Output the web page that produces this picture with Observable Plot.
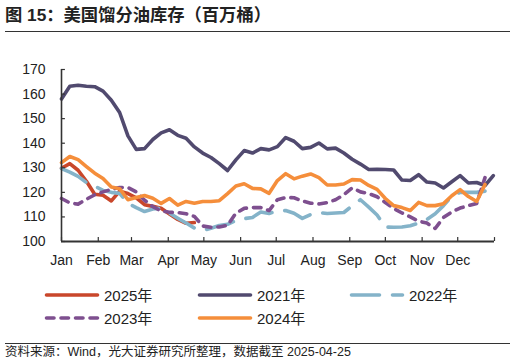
<!DOCTYPE html>
<html>
<head>
<meta charset="utf-8">
<script src="https://cdn.jsdelivr.net/npm/d3@7"></script>
<script src="https://cdn.jsdelivr.net/npm/@observablehq/plot@0.6"></script>
<style>
  html, body { margin: 0; padding: 0; background: #fff; }
  #root { position: relative; width: 516px; height: 364px; overflow: hidden; font-family: "Liberation Sans", Arial, "Noto Sans CJK SC", sans-serif; color: #222; }
  #title { position: absolute; left: 5px; top: 4px; font-family: "Liberation Sans", "Noto Sans CJK SC", sans-serif; font-weight: bold; font-size: 17.3px; line-height: 22px; color: #222; white-space: nowrap; }
  .hr { position: absolute; left: 5px; width: 505px; height: 0; border-top: 1.3px solid #333; }
  #chart { position: absolute; left: 0; top: 40px; }
  #legend { position: absolute; left: 0; top: 282px; width: 516px; height: 50px; }
  .item { position: absolute; display: flex; align-items: center; font-size: 15px; font-family: "Liberation Sans", Arial, "Noto Sans CJK SC", sans-serif; color: #222; white-space: nowrap; }
  .item svg { margin-right: 3px; }
  #caption { position: absolute; left: 5px; top: 344px; font-size: 12.5px; line-height: 17px; font-family: "Liberation Sans", "Noto Sans CJK SC", sans-serif; color: #222; white-space: nowrap; }
</style>
</head>
<body>
<div id="root">
  <div id="title">图 15：美国馏分油库存（百万桶）</div>
  <div class="hr" style="top:31px"></div>
  <div id="chart"></div>
  <div id="legend"></div>
  <div class="hr" style="top:343px"></div>
  <div id="caption">资料来源：Wind，光大证券研究所整理，数据截至 2025-04-25</div>
</div>
<script>
// ---- data (weekly values, million barrels) ----
const seriesNames = ["2025年", "2021年", "2022年", "2023年", "2024年"];
const months = ["Jan","Feb","Mar","Apr","May","Jun","Jul","Aug","Sep","Oct","Nov","Dec"];
const monthStartDays = [0,31,59,90,120,151,181,212,243,273,304,334,365];
const yTicks = [100,110,120,130,140,150,160,170];

const y2025 = [129.8,131.7,129.0,124.5,119.2,118.8,116.5,120.5,119.5,117.8,115.0,114.3,113.5,111.2,109.0,107.4,107.7];
const y2021 = [158.0,163.2,163.6,163.2,163.0,161.2,157.5,152.5,143.0,137.5,137.8,141.5,144.2,145.5,143.2,142.0,138.5,136.0,134.2,131.7,128.9,133.2,137.0,136.0,137.8,137.3,138.6,142.3,140.8,137.8,138.3,140.1,137.7,138.0,136.0,133.5,131.5,129.3,129.4,129.3,129.1,125.0,124.8,127.2,124.2,123.8,121.8,124.3,126.8,123.8,124.0,122.8,126.8];
const y2022 = [129.7,128.2,126.5,124.0,122.5,120.8,120.0,119.6,115.5,113.8,112.2,113.2,113.6,111.6,109.5,107.5,105.5,104.5,105.4,106.5,107.0,108.5,109.3,109.8,112.0,111.4,112.4,112.6,111.5,109.4,111.0,111.8,111.4,111.6,111.8,114.5,117.0,114.0,110.8,105.9,105.8,105.9,106.4,107.5,109.0,111.3,114.6,118.5,120.0,120.0,120.0,120.5];
const y2023 = [117.5,115.7,115.2,117.2,119.0,120.2,121.2,122.0,122.0,120.2,116.8,114.2,112.4,111.9,111.8,111.3,110.2,106.3,105.8,105.9,106.6,111.5,113.5,113.8,113.8,112.6,117.0,117.9,117.8,116.5,115.6,115.3,115.8,117.0,119.0,121.8,120.2,119.5,118.2,115.9,113.4,111.6,110.0,108.3,107.5,105.3,109.8,112.0,113.6,114.6,115.5,126.0];
const y2024 = [132.1,134.6,133.3,130.5,127.8,125.6,122.2,121.5,117.0,117.9,118.7,117.6,115.5,117.5,114.8,116.3,115.6,116.3,116.3,116.6,119.5,122.6,123.5,121.6,121.4,119.6,124.8,127.6,125.5,126.6,127.5,126.0,123.0,123.0,123.4,125.2,125.0,122.8,121.2,117.5,114.6,113.8,112.6,115.9,114.6,114.6,115.4,118.6,121.1,118.3,116.3,123.2];

const colors = { "2025年": "#C9472B", "2021年": "#514A6F", "2022年": "#84B3C9", "2023年": "#7E4F8F", "2024年": "#F58E3B" };
const dashes = { "2025年": null, "2021年": null, "2022年": "28,13", "2023年": "7.5,7", "2024年": null };
const valuesByName = { "2025年": y2025, "2021年": y2021, "2022年": y2022, "2023年": y2023, "2024年": y2024 };

// weekly points: x is day of year (week index * 7)
const toPoints = (vals) => vals.map((v, i) => ({ day: i * 7, value: v }));

const lineMarks = seriesNames.map(name => Plot.line(toPoints(valuesByName[name]), {
  x: "day", y: "value",
  stroke: colors[name], strokeWidth: 3.6,
  strokeLinejoin: "round", strokeLinecap: "round",
  strokeDasharray: dashes[name] || undefined
}));

const axisColor = "#333";
const chart = Plot.plot({
  width: 516,
  height: 240,
  marginLeft: 61,
  marginRight: 22,
  marginTop: 29,
  marginBottom: 39,
  style: { fontFamily: "'Liberation Sans', Arial, sans-serif", fontSize: "14px", color: "#222", background: "transparent" },
  x: { domain: [0, 365], label: null },
  y: { domain: [100, 170], label: null },
  marks: [
    ...lineMarks,
    // axis lines
    Plot.ruleX([0], { y1: 100, y2: 170, stroke: axisColor, strokeWidth: 1.6 }),
    Plot.ruleY([100], { x1: 0, x2: 365, stroke: axisColor, strokeWidth: 1.8 }),
    // inward ticks
    Plot.ruleY(yTicks, { x1: 0, x2: 3.3, stroke: axisColor, strokeWidth: 1.2 }),
    Plot.ruleX(monthStartDays, { y1: 100, y2: 101.6, stroke: axisColor, strokeWidth: 1.2 }),
    Plot.axisY({ ticks: yTicks, tickSize: 0, tickPadding: 16, tickFormat: d => String(d), fontSize: 14, label: null }),
    Plot.axisX({ ticks: monthStartDays.slice(0, 12), tickSize: 0, tickPadding: 14, tickFormat: (d, i) => months[i], fontSize: 14, label: null })
  ]
});
document.getElementById("chart").appendChild(chart);

// ---- legend ----
const legendPos = [
  { name: "2025年", left: 43, top: 2 },
  { name: "2021年", left: 196, top: 2 },
  { name: "2022年", left: 348, top: 2 },
  { name: "2023年", left: 43, top: 25 },
  { name: "2024年", left: 196, top: 25 }
];
const legend = document.getElementById("legend");
legendPos.forEach(p => {
  const div = document.createElement("div");
  div.className = "item";
  div.style.left = p.left + "px";
  div.style.top = p.top + "px";
  const dash = dashes[p.name] ? `stroke-dasharray="${dashes[p.name]}"` : "";
  div.innerHTML = `<svg width="58" height="20"><line x1="3.5" y1="10" x2="54.5" y2="10" stroke="${colors[p.name]}" stroke-width="3.6" stroke-linecap="round" ${dash}/></svg><span>${p.name}</span>`;
  legend.appendChild(div);
});
</script>
</body>
</html>
